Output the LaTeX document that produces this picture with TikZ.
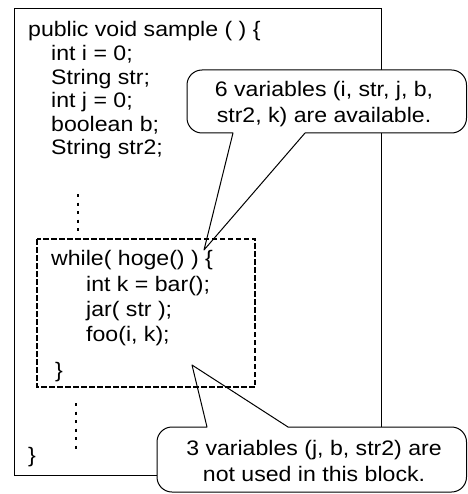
\documentclass[tikz,border=0pt]{standalone}
\usepackage{fontspec}
\setmainfont[FakeStretch=1.1]{Liberation Sans}
\usetikzlibrary{calc}

\tikzset{
  code/.style={anchor=base west,inner sep=0pt,font=\fontsize{21bp}{23bp}\selectfont},
  note/.style={align=center,inner sep=0pt,font=\fontsize{21bp}{26bp}\selectfont},
  bubble/.style={draw,fill=white,line width=1bp,line join=round},
  block/.style={draw,line width=2bp,dash pattern=on 5.5bp off 2.5bp},
  vdots/.style={line width=2bp,dash pattern=on 3bp off 5.5bp}
}

\begin{document}
\begin{tikzpicture}[x=1bp,y=-1bp]
	\useasboundingbox (0,0) rectangle (468,494);
	\draw[line width=1bp] (14,9) rectangle (381,475);
	\coordinate (tipa) at (204,250);
	\coordinate (tipb) at (192,365);
	\draw[bubble] (233,133) [rounded corners=15bp] -- (187,133) -- (187,70) -- (466.5,70) -- (466.5,133) [sharp corners] -- (305,133) -- (tipa) -- cycle;
	\draw[bubble] (207,427) [rounded corners=15bp] -- (157,427) -- (157,492) -- (466.5,492) -- (466.5,427) [sharp corners] -- (288,427) -- (tipb) -- cycle;
	\draw[block] (37,239) rectangle (255,387);
	\node[code] (head) at (28,37) {public void sample ( ) \{};
	\node[code] (vi) at (51,61) {int i = 0;};
	\node[code] (vstr) at (51,84.5) {String str;};
	\node[code] (vj) at (51,108) {int j = 0;};
	\node[code] (vb) at (51,131.5) {boolean b;};
	\node[code] (vstrb) at (51,155) {String str2;};
	\draw[vdots] (77.5,194) -- (77.5,231);
	\node[code] (loop) at (51,265) {while( hoge() ) \{};
	\node[code] (vk) at (86,291) {int k = bar();};
	\node[code] (jar) at (86,316) {jar( str );};
	\node[code] (foo) at (86,341) {foo(i, k);};
	\node[code] (loopend) at (55,377) {\}};
	\draw[vdots] (76,403) -- (76,449);
	\node[code] (tail) at (28,462) {\}};
	\node[note] (avail) at (324,104.5) {6 variables (i, str, j, b,\\str2, k) are available.};
	\node[note] (unused) at (314,461) {3 variables (j, b, str2) are\\not used in this block.};
\end{tikzpicture}
\end{document}
